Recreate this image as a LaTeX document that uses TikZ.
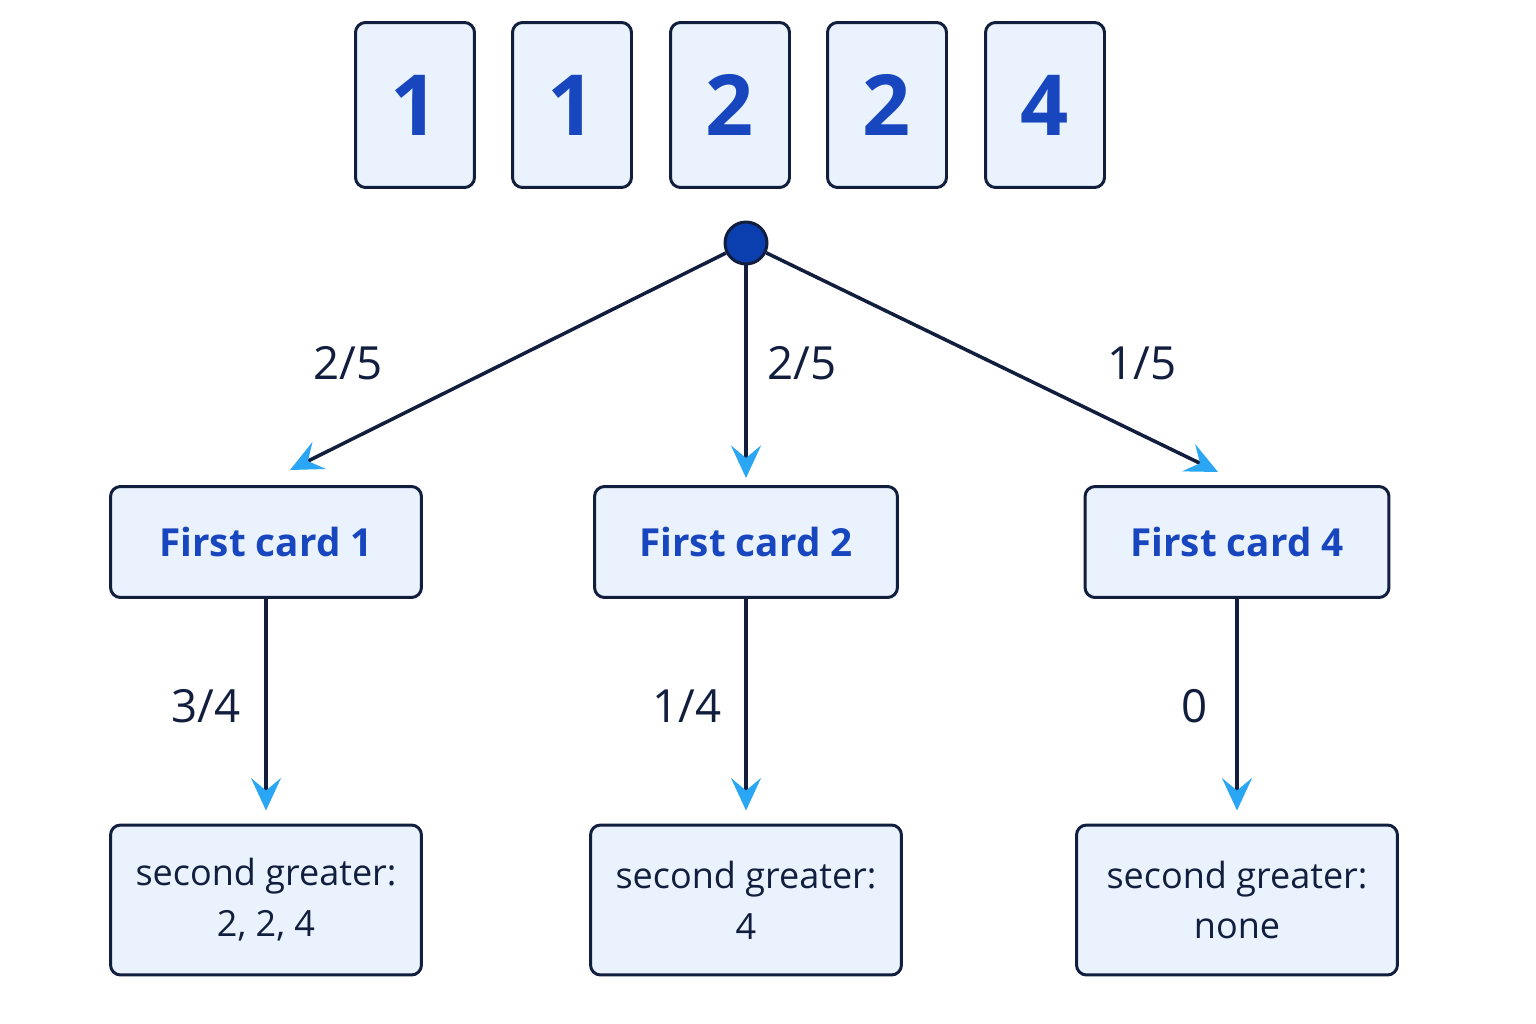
\documentclass[tikz,border=0pt]{standalone}
\usepackage{fontspec}
\setmainfont{Open Sans}
\usetikzlibrary{arrows.meta}
\definecolor{navy}{HTML}{111E3E}
\definecolor{fillb}{HTML}{EAF3FD}
\definecolor{txtb}{HTML}{1846BE}
\definecolor{tipb}{HTML}{2AA6F5}
\definecolor{dotb}{HTML}{0B3FB0}
\begin{document}
\begin{tikzpicture}[x=0.02cm,y=-0.02cm,
  box/.style={draw=navy,line width=1.7pt,fill=fillb,rounded corners=0.2cm,inner sep=0pt,align=center},
  card/.style={box,minimum width=2.38cm,minimum height=3.3cm,font=\fontsize{48}{56}\selectfont\bfseries,text=txtb},
  first/.style={box,minimum height=2.22cm,font=\fontsize{22}{28}\selectfont\bfseries,text=txtb},
  second/.style={box,minimum height=3cm,font=\fontsize{20.5}{29}\selectfont,text=navy},
  conn/.style={draw=navy,line width=2pt,-{Stealth[color=tipb,length=0.65cm,width=0.6cm,inset=0.25cm]}},
  lab/.style={font=\fontsize{26}{30}\selectfont,text=navy}]
\useasboundingbox (0,0) rectangle (1536,1024);
\node[card] (c1) at (415,105) {1};
\node[card] (c2) at (572,105) {1};
\node[card] (c3) at (730,105) {2};
\node[card] (c4) at (887,105) {2};
\node[card] (c5) at (1045,105) {4};
\node[circle,draw=navy,line width=1.7pt,fill=dotb,minimum size=0.84cm,inner sep=0pt] (d) at (746,243) {};
\node[first,minimum width=6.22cm] (f1) at (266,542) {First card 1};
\node[first,minimum width=6.06cm] (f2) at (746,542) {First card 2};
\node[first,minimum width=6.08cm] (f3) at (1237,542) {First card 4};
\node[second,minimum width=6.22cm] (s1) at (266,900) {second greater:\\2, 2, 4};
\node[second,minimum width=6.22cm] (s2) at (746,900) {second greater:\\4};
\node[second,minimum width=6.42cm] (s3) at (1237,900) {second greater:\\none};
\coordinate (t1) at (290,470);
\coordinate (t2) at (746,478);
\coordinate (t3) at (1218,472);
\draw[conn] (d) -- (t1);
\draw[conn] (d) -- (t2);
\draw[conn] (d) -- (t3);
\draw[conn] (f1) -- ([yshift=0.26cm]s1.north);
\draw[conn] (f2) -- ([yshift=0.26cm]s2.north);
\draw[conn] (f3) -- ([yshift=0.26cm]s3.north);
\node[lab] (l1) at (348,363) {2/5};
\node[lab] (l2) at (802,363) {2/5};
\node[lab] (l3) at (1142,363) {1/5};
\node[lab] (l4) at (206,706) {3/4};
\node[lab] (l5) at (687,706) {1/4};
\node[lab] (l6) at (1195,706) {0};
\end{tikzpicture}
\end{document}
